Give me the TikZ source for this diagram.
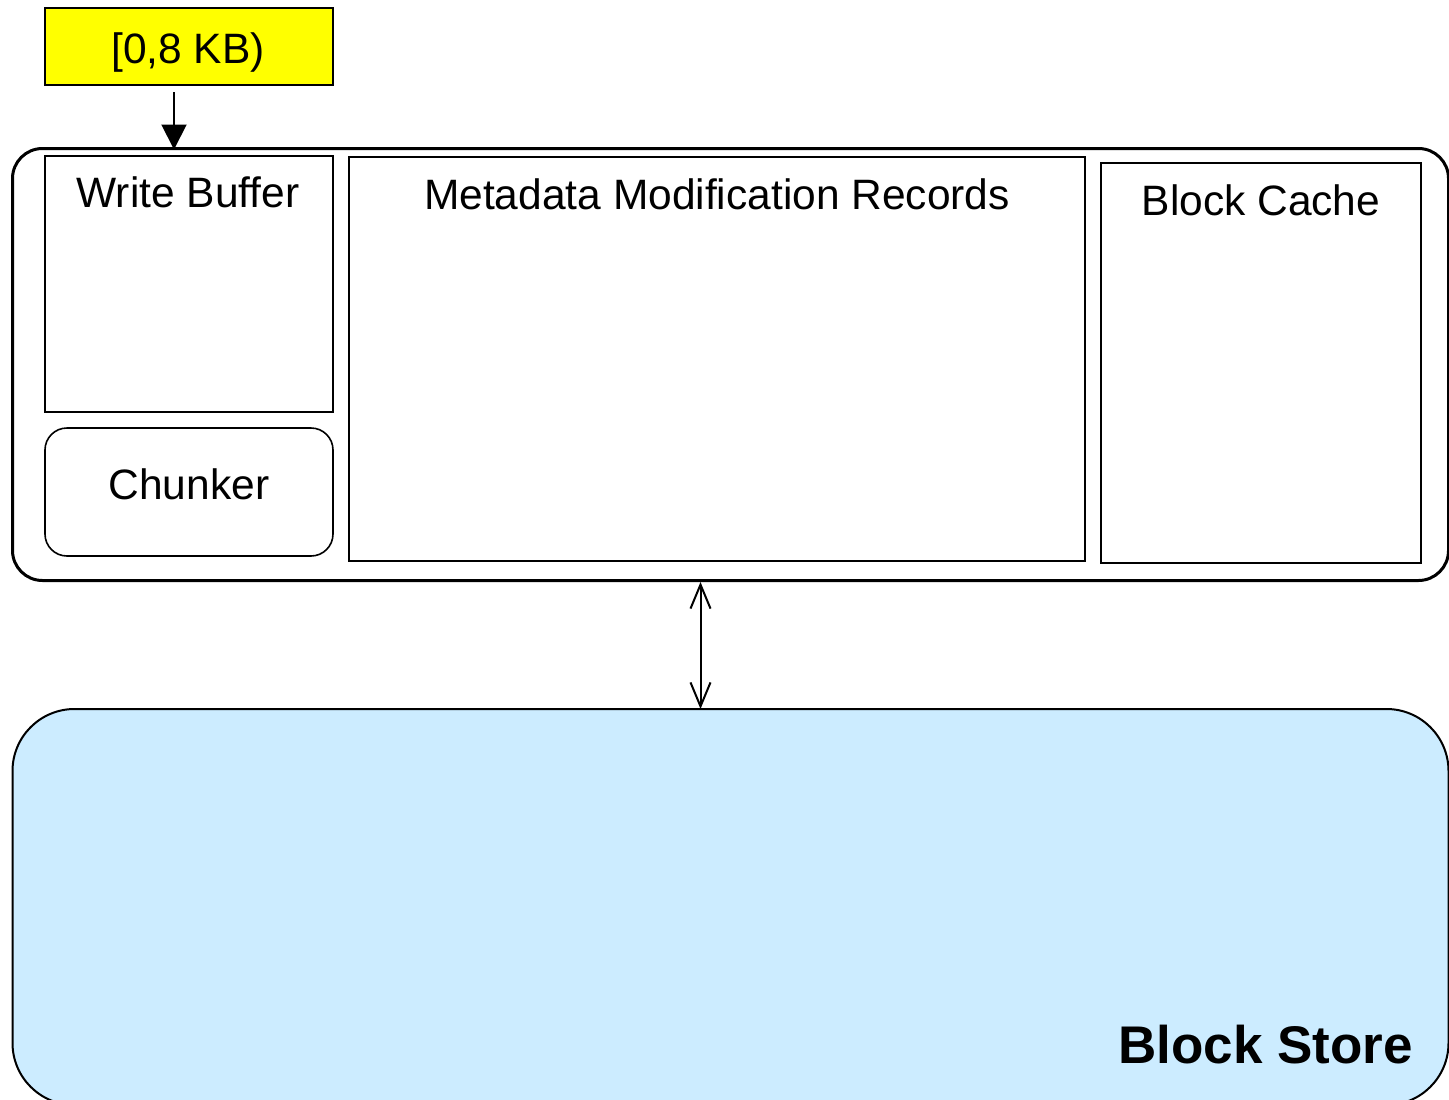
\documentclass[tikz,border=0pt]{standalone}
\usepackage{fontspec}
\setmainfont{Liberation Sans}
\usetikzlibrary{arrows.meta}
\definecolor{inyellow}{HTML}{FFFF00}
\definecolor{storeblue}{HTML}{CCECFF}
\tikzset{
  box/.style={draw=black, line width=1.6pt, rectangle, inner sep=0pt, outer sep=0pt, anchor=north west},
  lbl/.style={inner sep=0pt, anchor=base, font=\fontsize{42.5}{50}\selectfont},
}
\begin{document}
\begin{tikzpicture}[x=1pt, y=-1pt]
  \useasboundingbox (0,0) rectangle (1449,1100);
  \clip (0,0) rectangle (1449,1100);

  % input request size
  \node[box, fill=inyellow, minimum width=288pt, minimum height=77pt] (inbox) at (45,8) {};
  \node[lbl] (intxt) at (188,63) {[0,8 KB)};

  % front-end container
  \node[draw=black, line width=3pt, rounded corners=30pt, inner sep=0pt, outer sep=0pt,
        anchor=north west, minimum width=1436pt, minimum height=432pt] (outer) at (12.5,148.5) {};

  \node[box, minimum width=288pt, minimum height=256pt] (wb) at (45,156) {};
  \node[lbl] (wbtxt) at (188,207) {Write Buffer};

  \node[box, rounded corners=22pt, minimum width=288pt, minimum height=128pt] (chunk) at (45,428) {};
  \node[lbl] (chunktxt) at (189,499) {Chunker};

  \node[box, minimum width=736pt, minimum height=404pt] (meta) at (349,157) {};
  \node[lbl] (metatxt) at (717,209) {Metadata Modification Records};

  \node[box, minimum width=320pt, minimum height=400pt] (cache) at (1101,163) {};
  \node[lbl] (cachetxt) at (1261,215) {Block Cache};

  % back-end store
  \node[draw=black, line width=2pt, fill=storeblue, rounded corners=62pt, inner sep=0pt, outer sep=0pt,
        anchor=north west, minimum width=1436pt, minimum height=396pt] (store) at (12.5,709) {};
  \node[inner sep=0pt, anchor=base east, font=\bfseries\fontsize{53}{60}\selectfont] (storetxt)
        at (1413,1063) {Block Store};

  % connectors
  \coordinate (wbin) at ([xshift=-15pt]inbox.south |- outer.north);
  \draw[line width=2pt, shorten <=7pt, shorten >=-1pt, -{Triangle[length=25pt,width=25pt]}]
    ([xshift=-15pt]inbox.south) -- (wbin);
  \draw[line width=2pt, {Straight Barb[length=24pt,width=20pt]}-{Straight Barb[length=24pt,width=20pt]}]
    ([xshift=-30pt,yshift=-1.5pt]outer.south) -- ([xshift=-30pt]store.north);
\end{tikzpicture}
\end{document}
